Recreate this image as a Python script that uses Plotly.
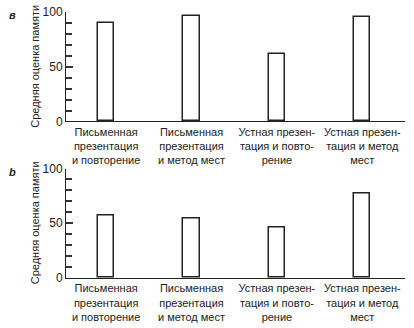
import plotly.graph_objects as go
from plotly.subplots import make_subplots

categories = [
    "Письменная<br>презентация<br>и повторение",
    "Письменная<br>презентация<br>и метод мест",
    "Устная презен-<br>тация и повто-<br>рение",
    "Устная презен-<br>тация и метод<br>мест",
]
values_a = [90, 96, 62, 95]
values_b = [57, 54, 46, 77]
panel_labels = ["в", "b"]
y_title = "Средняя оценка памяти"

FONT = "Liberation Sans, Arial, sans-serif"
INK = "#222222"

TOP_DOM = [0.5884, 1.0]
BOT_DOM = [0.0, 0.4116]

fig = make_subplots(rows=2, cols=1, vertical_spacing=0.18)

for i, vals in enumerate([values_a, values_b], start=1):
    fig.add_trace(
        go.Bar(
            x=list(range(len(categories))),
            y=vals,
            width=0.19,
            marker=dict(color="white", line=dict(color=INK, width=1.5)),
            showlegend=False,
            hoverinfo="skip",
        ),
        row=i, col=1,
    )

xax = dict(
    range=[-0.47, 3.5],
    tickmode="array",
    tickvals=list(range(len(categories))),
    ticktext=categories,
    ticks="",
    showline=True, linecolor=INK, linewidth=1,
    showgrid=False, zeroline=False,
    tickfont=dict(family=FONT, size=11, color=INK),
)

def yax(dom, anchor):
    return dict(
        domain=dom, anchor=anchor,
        range=[0, 100],
        tickmode="linear", tick0=0, dtick=50,
        ticks="inside", ticklen=7, tickcolor="#333333", tickwidth=1.6,
        minor=dict(tickmode="linear", tick0=0, dtick=10, ticks="inside",
                   ticklen=6, tickcolor="#333333", tickwidth=1.6, showgrid=False),
        showline=True, linecolor=INK, linewidth=1,
        showgrid=False, zeroline=False,
        tickfont=dict(family=FONT, size=12, color=INK),
    )

fig.update_layout(
    xaxis=dict(xax, anchor="y"),
    xaxis2=dict(xax, anchor="y2"),
    yaxis=yax(TOP_DOM, "x"),
    yaxis2=yax(BOT_DOM, "x2"),
)

for dom, lab in [(TOP_DOM, panel_labels[0]), (BOT_DOM, panel_labels[1])]:
    fig.add_annotation(
        text=y_title, xref="paper", yref="paper", x=0, y=(dom[0] + dom[1]) / 2,
        xshift=-31, textangle=-90, showarrow=False,
        xanchor="center", yanchor="middle",
        font=dict(family=FONT, size=11, color=INK),
    )
    fig.add_annotation(
        text="<b><i>" + lab + "</i></b>", xref="paper", yref="paper", x=0, y=dom[1],
        xshift=-54, yshift=-3, showarrow=False,
        xanchor="center", yanchor="middle",
        font=dict(family=FONT, size=11, color=INK),
    )

fig.update_layout(
    width=414, height=328,
    margin=dict(l=66, r=9, t=5, b=46),
    plot_bgcolor="white", paper_bgcolor="white",
    bargap=0,
)

fig.write_html("out.html")
